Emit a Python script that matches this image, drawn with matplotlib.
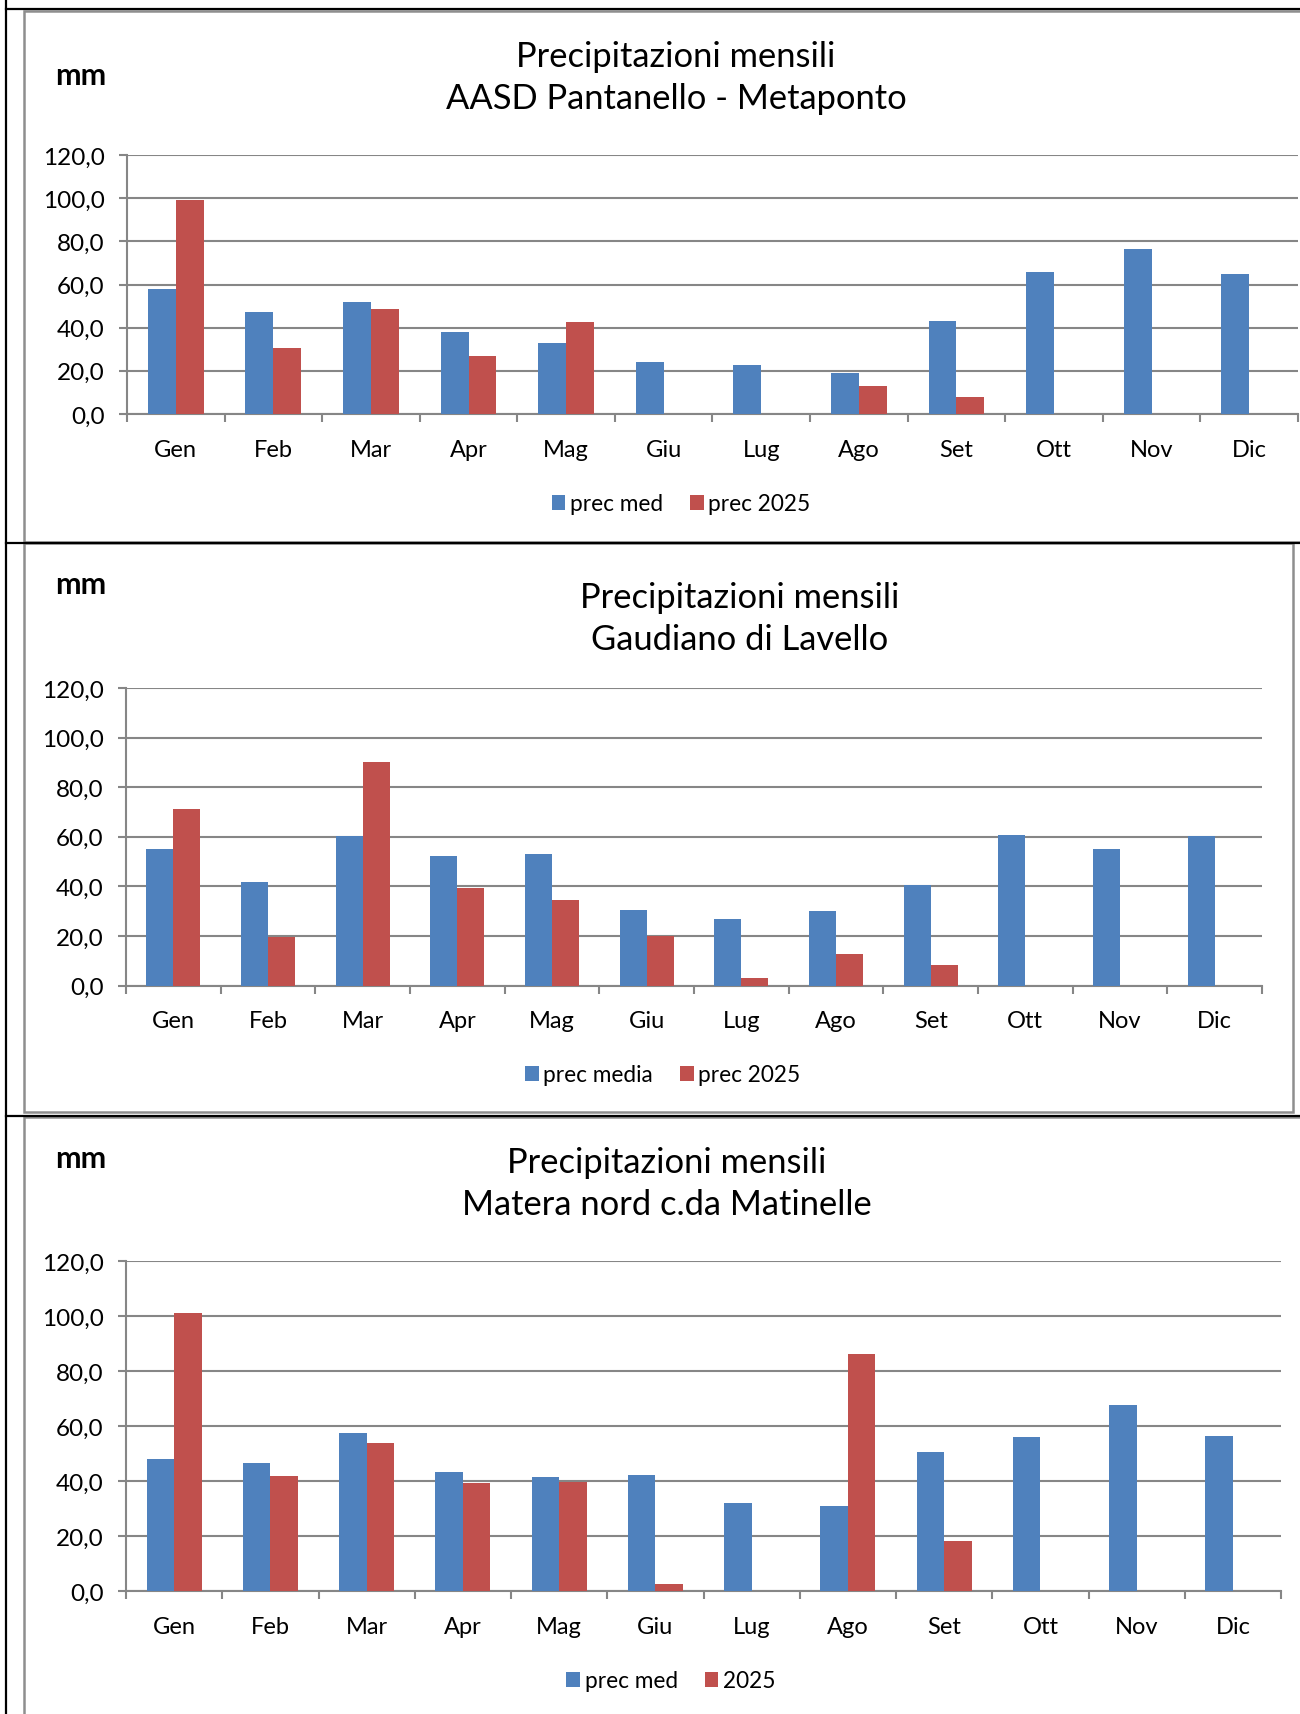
import numpy as np
import matplotlib
matplotlib.use("Agg")
from matplotlib import pyplot as plt
from matplotlib.lines import Line2D
from matplotlib.patches import Rectangle, Patch
from matplotlib.ticker import FuncFormatter

plt.rcParams['font.family'] = ['Lato', 'DejaVu Sans']

months = ["Gen", "Feb", "Mar", "Apr", "Mag", "Giu",
          "Lug", "Ago", "Set", "Ott", "Nov", "Dic"]

# AASD Pantanello - Metaponto
pant_med = [58.1, 47.3, 51.7, 38.2, 33.0, 24.1, 22.6, 18.9, 43.2, 66.0, 76.5, 64.7]
pant_2025 = [99.2, 30.4, 48.6, 27.1, 42.6, None, None, 12.9, 7.7, None, None, None]

# Gaudiano di Lavello
gaud_med = [55.1, 41.6, 60.3, 52.2, 53.0, 30.4, 26.9, 30.0, 40.6, 60.7, 55.2, 60.3]
gaud_2025 = [71.2, 19.4, 90.1, 39.4, 34.5, 20.0, 3.1, 12.7, 8.2, None, None, None]

# Matera nord c.da Matinelle
mat_med = [48.1, 46.7, 57.5, 43.3, 41.3, 42.2, 31.9, 30.8, 50.6, 55.9, 67.6, 56.5]
mat_2025 = [101.1, 42.0, 53.7, 39.2, 39.5, 2.5, None, 86.2, 18.1, None, None, None]

W, H = 1300, 1715
BLUE = "#4f81bd"
RED = "#c0504d"
GRID = "#868686"
BOX = "#8e8e8e"


def fx(x):
    return x / W


def fy(y):
    return 1 - y / H


def box(left, right, top, bottom):
    return [fx(left), fy(bottom), (right - left) / W, (bottom - top) / H]


def to_float(vals):
    return np.array([np.nan if v is None else v for v in vals], dtype=float)


fig = plt.figure(figsize=(W / 100, H / 100), dpi=100)

# document table lines and chart frames
for (x0, x1, y0, y1, c, lw) in [
    (6, 6, 0, H, "black", 1.6),
    (6, W, 10, 10, "black", 1.6),
    (6, W, 543.5, 543.5, "black", 1.6),
    (6, W, 1117, 1117, "black", 1.6),
]:
    fig.add_artist(Line2D([fx(x0), fx(x1)], [fy(y0), fy(y1)], color=c, lw=lw))

for (x0, y0, x1, y1) in [(24, 12, 1310, 543), (24, 544, 1293, 1113), (24, 1118, 1310, 1730)]:
    fig.add_artist(Rectangle((fx(x0), fy(y1)), (x1 - x0) / W, (y1 - y0) / H,
                             transform=fig.transFigure, fill=False,
                             edgecolor=BOX, lw=1.8))


def panel(axpos, med, y2025, title, title_xy, mm_y, legend_labels, legend_xy):
    ax = fig.add_axes(box(*axpos))
    x = np.arange(len(months))
    w = 1 / 3.5
    ax.bar(x - w / 2, to_float(med), w, color=BLUE, zorder=3)
    ax.bar(x + w / 2, to_float(y2025), w, color=RED, zorder=3)

    ax.set_xlim(-0.5, 11.5)
    ax.set_ylim(0, 120)
    ax.set_yticks(np.arange(0, 121, 20))
    ax.yaxis.set_major_formatter(FuncFormatter(lambda v, p: f"{v:.1f}".replace(".", ",")))
    ax.grid(axis="y", color=GRID, lw=1.5, zorder=0)
    ax.set_axisbelow(True)

    ax.set_xticks(x)
    ax.set_xticklabels(months)
    ax.set_xticks(np.arange(-0.5, 12, 1), minor=True)
    ax.tick_params(axis="x", which="major", length=0, pad=18, labelsize=17)
    ax.tick_params(axis="x", which="minor", length=6, width=1.5, color=GRID, direction="out")
    ax.tick_params(axis="y", length=6, width=1.5, color=GRID, pad=10, labelsize=17.5)

    for s in ["top", "right"]:
        ax.spines[s].set_visible(False)
    for s in ["left", "bottom"]:
        ax.spines[s].set_color(GRID)
        ax.spines[s].set_linewidth(1.5)

    fig.text(fx(title_xy[0]), fy(title_xy[1]), title, ha="center", va="center",
             fontsize=24.8, linespacing=1.4)
    fig.text(fx(81), fy(mm_y), "mm", ha="center", va="center",
             fontsize=22, fontweight="bold")

    handles = [Patch(facecolor=BLUE), Patch(facecolor=RED)]
    fig.legend(handles, legend_labels, loc="center",
               bbox_to_anchor=(fx(legend_xy[0]), fy(legend_xy[1])),
               ncol=2, frameon=False, fontsize=16.3,
               handlelength=0.6, handleheight=0.6, handletextpad=0.2,
               columnspacing=1.2)
    return ax


panel((127, 1298, 156, 415), pant_med, pant_2025,
      "Precipitazioni mensili\nAASD Pantanello - Metaponto", (676, 78), 76,
      ["prec med", "prec 2025"], (681, 505))

panel((126, 1262, 689, 986.5), gaud_med, gaud_2025,
      "Precipitazioni mensili\nGaudiano di Lavello", (740, 619), 585,
      ["prec media", "prec 2025"], (663, 1076))

panel((126, 1281, 1262, 1592), mat_med, mat_2025,
      "Precipitazioni mensili\nMatera nord c.da Matinelle", (667, 1184), 1159,
      ["prec med", "2025"], (671, 1682))

fig.savefig("out.png", dpi=100, facecolor="white")
